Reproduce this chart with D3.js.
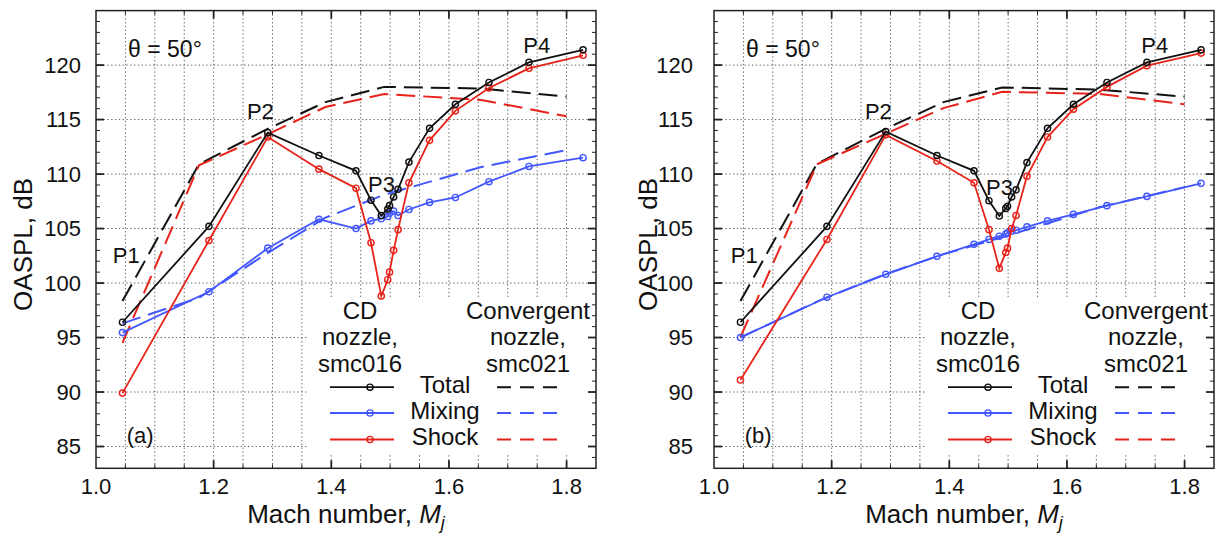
<!DOCTYPE html>
<html>
<head>
<meta charset="utf-8">
<script src="https://cdn.jsdelivr.net/npm/d3@7"></script>
<style>
  body { margin: 0; background: #fff; }
  svg { display: block; }
  text { font-family: "Liberation Sans", Arial, Helvetica, sans-serif; fill: #111; }
</style>
</head>
<body>
<svg id="chart" width="1215" height="535"></svg>
<script>
// Fully expanded jet Mach numbers of the measured conditions
const machCD   = [1.045, 1.192, 1.292, 1.379, 1.442, 1.4675, 1.485, 1.496, 1.499, 1.506, 1.5135, 1.532, 1.567, 1.611, 1.668, 1.736, 1.828];
const machConv = [1.045, 1.175, 1.29, 1.39, 1.49, 1.655, 1.80];

// Panel (a): OASPL, dB
const totalCD_a    = [96.4, 105.2, 113.8, 111.7, 110.3, 107.6, 106.2, 106.8, 107.1, 107.9, 108.6, 111.1, 114.2, 116.4, 118.4, 120.25, 121.4];
const mixingCD_a   = [95.45, 99.2, 103.2, 105.85, 105.0, 105.7, 105.9, 106.1, 106.4, 106.6, 106.2, 106.75, 107.4, 107.85, 109.3, 110.7, 111.5];
const shockCD_a    = [89.9, 103.9, 113.4, 110.45, 108.7, 103.7, 98.8, 100.3, 101.0, 103.0, 104.9, 109.2, 113.1, 115.8, 117.9, 119.7, 120.9];
const totalConv_a  = [98.35, 110.9, 114.1, 116.6, 118.0, 117.85, 117.1];
const mixingConv_a = [96.3, 98.65, 102.7, 106.0, 108.1, 110.65, 112.2];
const shockConv_a  = [94.5, 110.8, 113.6, 116.15, 117.35, 116.8, 115.3];

// Panel (b): OASPL, dB
const totalCD_b    = [96.4, 105.2, 113.9, 111.7, 110.3, 107.55, 106.15, 106.85, 107.05, 107.9, 108.55, 111.05, 114.2, 116.4, 118.4, 120.25, 121.4];
const mixingCD_b   = [95.0, 98.7, 100.8, 102.45, 103.55, 104.0, 104.3, 104.5, 104.6, 104.75, 104.85, 105.15, 105.7, 106.3, 107.1, 107.95, 109.15];
const shockCD_b    = [91.1, 104.0, 113.6, 111.2, 109.2, 104.9, 101.35, 102.8, 103.2, 105.0, 106.2, 109.8, 113.4, 115.95, 118.0, 119.95, 121.1];
const totalConv_b  = [98.35, 110.95, 114.1, 116.6, 117.95, 117.75, 117.1];
const mixingConv_b = [95.0, 98.3, 100.8, 102.65, 104.2, 106.95, 108.8];
const shockConv_b  = [95.05, 110.9, 113.65, 116.05, 117.55, 117.35, 116.4];

// Axis ticks
const xTicks = [1.0, 1.2, 1.4, 1.6, 1.8];
const yTicks = [85, 90, 95, 100, 105, 110, 115, 120];
const xDomain = [1.0, 1.85];
const yDomain = [83, 125];

// Legend rows and annotations
const seriesNames = ["Total", "Mixing", "Shock"];
const seriesColors = ["#111111", "#4357ff", "#e8231a"];
const cdTitle = ["CD", "nozzle,", "smc016"];
const convTitle = ["Convergent", "nozzle,", "smc021"];
const pointLabels = [
  { text: "P1", m: 1.0284, v: 101.8 },
  { text: "P2", m: 1.2565, v: 115.05 },
  { text: "P3", m: 1.4625, v: 108.4 },
  { text: "P4", m: 1.7263, v: 121.1 }
];

const panels = [
  { left: 96,  tag: "(a)", labelGap: 15, titleX: 31.5,
    cd: [totalCD_a, mixingCD_a, shockCD_a], conv: [totalConv_a, mixingConv_a, shockConv_a], p3Shift: 0 },
  { left: 714, tag: "(b)", labelGap: 21, titleX: 656.5,
    cd: [totalCD_b, mixingCD_b, shockCD_b], conv: [totalConv_b, mixingConv_b, shockConv_b], p3Shift: 0.3 }
];

const W = 500, plotTop = 10.6, plotBottom = 468.3;
const svg = d3.select("#chart");

panels.forEach(p => {
  const x = d3.scaleLinear().domain(xDomain).range([p.left, p.left + W]);
  const y = d3.scaleLinear().domain(yDomain).range([plotBottom, plotTop]);
  const g = svg.append("g");

  // dotted grid
  const xGrid = d3.range(1.05, 1.8001, 0.05);
  g.append("g").selectAll("line").data(xGrid).join("line")
    .attr("x1", d => x(d)).attr("x2", d => x(d))
    .attr("y1", plotTop).attr("y2", plotBottom)
    .attr("stroke", "#666").attr("stroke-width", 1).attr("stroke-dasharray", "1.4,2.4");
  g.append("g").selectAll("line").data(yTicks).join("line")
    .attr("x1", p.left).attr("x2", p.left + W)
    .attr("y1", d => y(d)).attr("y2", d => y(d))
    .attr("stroke", "#666").attr("stroke-width", 1).attr("stroke-dasharray", "1.4,2.4");

  // legend backing
  g.append("rect")
    .attr("x", p.left + 212).attr("y", 297)
    .attr("width", 283).attr("height", 157)
    .attr("fill", "#fff");

  const line = d3.line().x(d => x(d[0])).y(d => y(d[1]));

  // convergent nozzle (dashed)
  [1, 0, 2].forEach(i => {
    g.append("path")
      .datum(machConv.map((m, k) => [m, p.conv[i][k]]))
      .attr("d", line).attr("fill", "none")
      .attr("stroke", seriesColors[i]).attr("stroke-width", 2)
      .attr("stroke-dasharray", "19,8");
  });

  // CD nozzle (solid with open circles)
  [1, 2, 0].forEach(i => {
    const pts = machCD.map((m, k) => [m, p.cd[i][k]]);
    g.append("path").datum(pts)
      .attr("d", line).attr("fill", "none")
      .attr("stroke", seriesColors[i]).attr("stroke-width", 1.8);
    g.append("g").selectAll("circle").data(pts).join("circle")
      .attr("cx", d => x(d[0])).attr("cy", d => y(d[1])).attr("r", 3.1)
      .attr("fill", "none").attr("stroke", seriesColors[i]).attr("stroke-width", 1.4);
  });

  // legend
  const lx = p.left;
  const rowBase = [382.1, 407.9, 434.4].map(v => v + plotTop);
  const headBase = [308.7, 334.4, 361.1].map(v => v + plotTop);
  cdTitle.forEach((t, k) => g.append("text").attr("x", lx + 264).attr("y", headBase[k])
    .attr("text-anchor", "middle").attr("font-size", 24).text(t));
  convTitle.forEach((t, k) => g.append("text").attr("x", lx + 432).attr("y", headBase[k])
    .attr("text-anchor", "middle").attr("font-size", 24).text(t));
  seriesNames.forEach((name, k) => {
    const yy = rowBase[k] - 5.5;
    g.append("line").attr("x1", lx + 234).attr("x2", lx + 298).attr("y1", yy).attr("y2", yy)
      .attr("stroke", seriesColors[k]).attr("stroke-width", 1.8);
    g.append("circle").attr("cx", lx + 274).attr("cy", yy).attr("r", 3.1)
      .attr("fill", "none").attr("stroke", seriesColors[k]).attr("stroke-width", 1.4);
    g.append("text").attr("x", lx + 349).attr("y", rowBase[k])
      .attr("text-anchor", "middle").attr("font-size", 24).text(name);
    g.append("line").attr("x1", lx + 401).attr("x2", lx + 464).attr("y1", yy).attr("y2", yy)
      .attr("stroke", seriesColors[k]).attr("stroke-width", 2).attr("stroke-dasharray", "14,9");
  });

  // annotations
  pointLabels.forEach(d => {
    const dv = d.text === "P3" ? -p.p3Shift : 0;
    g.append("text").attr("x", x(d.m)).attr("y", y(d.v + dv))
      .attr("font-size", 22).text(d.text);
  });
  g.append("text").attr("x", x(1.0545)).attr("y", y(120.74)).attr("font-size", 23).text("θ = 50°");
  g.append("text").attr("x", x(1.0523)).attr("y", y(85.28)).attr("font-size", 22).text(p.tag);

  // frame
  g.append("rect").attr("x", p.left).attr("y", plotTop).attr("width", W).attr("height", plotBottom - plotTop)
    .attr("fill", "none").attr("stroke", "#222").attr("stroke-width", 1.5);

  // ticks (inward, on all four sides)
  const xMinor = d3.range(1.05, 1.8001, 0.05).filter(v => Math.abs(v * 5 - Math.round(v * 5)) > 1e-6);
  const xMajor = xTicks.filter(v => v > 1.0001);
  const yMinor = d3.range(84, 125, 1).filter(v => v % 5 !== 0);
  const tk = g.append("g").attr("stroke", "#222");
  [[xMinor, 4, 1], [xMajor, 8, 1.8]].forEach(([vals, len, sw]) => {
    tk.append("g").selectAll("line").data(vals).join("line")
      .attr("x1", d => x(d)).attr("x2", d => x(d)).attr("y1", plotBottom).attr("y2", plotBottom - len).attr("stroke-width", sw);
    tk.append("g").selectAll("line").data(vals).join("line")
      .attr("x1", d => x(d)).attr("x2", d => x(d)).attr("y1", plotTop).attr("y2", plotTop + len).attr("stroke-width", sw);
  });
  [[yMinor, 4, 1], [yTicks, 8, 1.8]].forEach(([vals, len, sw]) => {
    tk.append("g").selectAll("line").data(vals).join("line")
      .attr("x1", p.left).attr("x2", p.left + len).attr("y1", d => y(d)).attr("y2", d => y(d)).attr("stroke-width", sw);
    tk.append("g").selectAll("line").data(vals).join("line")
      .attr("x1", p.left + W).attr("x2", p.left + W - len).attr("y1", d => y(d)).attr("y2", d => y(d)).attr("stroke-width", sw);
  });

  // tick labels
  g.append("g").selectAll("text").data(xTicks).join("text")
    .attr("x", d => x(d)).attr("y", 494).attr("text-anchor", "middle")
    .attr("font-size", 22).text(d => d3.format(".1f")(d));
  g.append("g").selectAll("text").data(yTicks).join("text")
    .attr("x", p.left - p.labelGap).attr("y", d => y(d)).attr("dy", "0.36em")
    .attr("text-anchor", "end").attr("font-size", 22).text(d => d);

  // axis titles
  const xt = g.append("text").attr("x", p.left + W / 2).attr("y", 523)
    .attr("text-anchor", "middle").attr("font-size", 26);
  xt.append("tspan").text("Mach number, ");
  xt.append("tspan").attr("font-style", "italic").text("M");
  xt.append("tspan").attr("font-style", "italic").attr("font-size", 18).attr("dy", 6).text("j");

  g.append("text")
    .attr("transform", `translate(${p.titleX},${(plotTop + plotBottom) / 2 + 5}) rotate(-90)`)
    .attr("text-anchor", "middle").attr("font-size", 26).text("OASPL, dB");
});
</script>
</body>
</html>
